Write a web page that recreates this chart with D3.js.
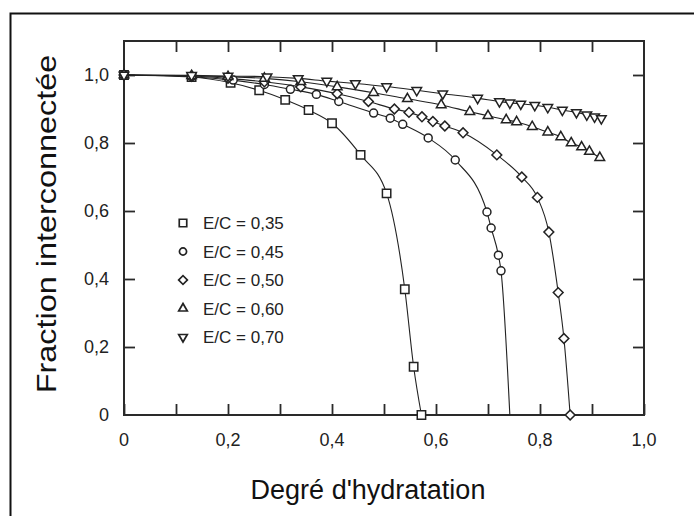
<!DOCTYPE html>
<html>
<head>
<meta charset="utf-8">
<script src="https://cdn.jsdelivr.net/npm/d3@7"></script>
<style>
  body { margin: 0; background: #fff; }
  svg { font-family: "Liberation Sans", Arial, sans-serif; }
</style>
</head>
<body>
<div id="chart"></div>
<script>
// data
const ec035X = [0, 0.13, 0.205, 0.26, 0.31, 0.355, 0.40, 0.455, 0.505, 0.54, 0.557, 0.572];
const ec035Y = [1.0, 0.994, 0.977, 0.955, 0.927, 0.897, 0.858, 0.765, 0.652, 0.37, 0.142, 0.0];

const ec045X = [0, 0.13, 0.21, 0.27, 0.32, 0.37, 0.413, 0.48, 0.512, 0.536, 0.585, 0.637, 0.698, 0.706, 0.72, 0.725];
const ec045Y = [1.0, 0.995, 0.985, 0.972, 0.958, 0.943, 0.922, 0.888, 0.873, 0.855, 0.815, 0.75, 0.597, 0.55, 0.47, 0.424];
const ec045End = [0.742, 0.0];

const ec050X = [0, 0.13, 0.2, 0.27, 0.34, 0.41, 0.47, 0.52, 0.548, 0.573, 0.594, 0.617, 0.652, 0.717, 0.765, 0.795, 0.817, 0.835, 0.846, 0.858];
const ec050Y = [1.0, 0.997, 0.99, 0.98, 0.965, 0.945, 0.922, 0.9, 0.89, 0.877, 0.863, 0.85, 0.83, 0.765, 0.7, 0.64, 0.538, 0.36, 0.225, 0.0];

const ec060X = [0, 0.13, 0.2, 0.27, 0.34, 0.41, 0.48, 0.545, 0.61, 0.665, 0.7, 0.735, 0.755, 0.785, 0.815, 0.84, 0.86, 0.88, 0.895, 0.915];
const ec060Y = [1.0, 0.998, 0.995, 0.99, 0.98, 0.965, 0.948, 0.93, 0.912, 0.892, 0.88, 0.868, 0.862, 0.848, 0.832, 0.818, 0.8, 0.788, 0.775, 0.757];

const ec070X = [0, 0.13, 0.2, 0.275, 0.335, 0.39, 0.445, 0.505, 0.563, 0.613, 0.68, 0.722, 0.742, 0.763, 0.79, 0.815, 0.843, 0.87, 0.89, 0.905, 0.918];
const ec070Y = [1.0, 0.999, 0.997, 0.995, 0.99, 0.982, 0.975, 0.966, 0.955, 0.945, 0.932, 0.922, 0.918, 0.915, 0.911, 0.905, 0.897, 0.89, 0.883, 0.877, 0.872];

const legendLabels = ["E/C = 0,35", "E/C = 0,45", "E/C = 0,50", "E/C = 0,60", "E/C = 0,70"];
const xTicks = [0, 0.2, 0.4, 0.6, 0.8, 1.0];
const xMinorTicks = [0, 0.1, 0.2, 0.3, 0.4, 0.5, 0.6, 0.7, 0.8, 0.9, 1.0];
const yTicks = [0, 0.2, 0.4, 0.6, 0.8, 1.0];

const W = 694, H = 516;
const margin = {top: 41, right: 50, bottom: 101, left: 124};
const width = W - margin.left - margin.right;
const height = H - margin.top - margin.bottom;

const fmt = d => d === 0 ? "0" : d3.format(".1f")(d).replace(".", ",");

const svg = d3.select("#chart").append("svg")
    .attr("width", W)
    .attr("height", H);

// outer frame (left + top only, runs off the page)
svg.append("path")
    .attr("d", "M10.5," + H + "V13.5H" + W)
    .attr("fill", "none")
    .attr("stroke", "#111")
    .attr("stroke-width", 2);

const g = svg.append("g")
    .attr("transform", "translate(" + margin.left + "," + margin.top + ")");

const x = d3.scaleLinear().domain([0, 1]).range([0, width]);
const y = d3.scaleLinear().domain([0, 1.1]).range([height, 0]);

const tickLen = 11;
const axisColor = "#2a2a2a";

// bottom axis
const xAxis = g.append("g")
    .attr("transform", "translate(0," + height + ")")
    .call(d3.axisBottom(x).tickValues(xMinorTicks).tickSizeInner(-tickLen).tickSizeOuter(0).tickFormat(""));
// top axis
const xAxisTop = g.append("g")
    .call(d3.axisTop(x).tickValues(xMinorTicks.slice(1, -1)).tickSizeInner(-tickLen).tickSizeOuter(0).tickFormat(""));
// left axis
const yAxis = g.append("g")
    .call(d3.axisLeft(y).tickValues(yTicks.slice(1)).tickSizeInner(-tickLen).tickSizeOuter(0).tickFormat(""));
// right axis
const yAxisRight = g.append("g")
    .attr("transform", "translate(" + width + ",0)")
    .call(d3.axisRight(y).tickValues(yTicks.slice(1)).tickSizeInner(-tickLen).tickSizeOuter(0).tickFormat(""));

[xAxis, xAxisTop, yAxis, yAxisRight].forEach(a => {
    a.select(".domain").remove();
    a.selectAll("line").attr("stroke", axisColor).attr("stroke-width", 1.8);
});

// box
g.append("rect")
    .attr("width", width)
    .attr("height", height)
    .attr("fill", "none")
    .attr("stroke", axisColor)
    .attr("stroke-width", 2);

// tick labels
g.selectAll(".xlab").data(xTicks).enter().append("text")
    .attr("x", d => x(d))
    .attr("y", height + 31)
    .attr("text-anchor", "middle")
    .attr("font-size", 18)
    .attr("fill", "#222")
    .text(fmt);

g.selectAll(".ylab").data(yTicks).enter().append("text")
    .attr("x", -15)
    .attr("y", d => y(d) + 6)
    .attr("text-anchor", "end")
    .attr("font-size", 18)
    .attr("fill", "#222")
    .text(fmt);

// axis titles
svg.append("text")
    .attr("x", 368)
    .attr("y", 499)
    .attr("text-anchor", "middle")
    .attr("font-size", 27)
    .attr("fill", "#111")
    .text("Degré d'hydratation");

svg.append("text")
    .attr("transform", "translate(56,224) rotate(-90) scale(1.2,1)")
    .attr("text-anchor", "middle")
    .attr("font-size", 27)
    .attr("fill", "#111")
    .text("Fraction interconnectée");

// marker shapes
const symbols = [d3.symbolSquare, d3.symbolCircle, d3.symbolSquare, d3.symbolTriangle, d3.symbolTriangle];
const symSizes = [70, 50, 48, 40, 40];
const symRotate = [0, 0, 45, 0, 180];

const series = [
    {xs: ec035X, ys: ec035Y},
    {xs: ec045X, ys: ec045Y, end: ec045End},
    {xs: ec050X, ys: ec050Y},
    {xs: ec060X, ys: ec060Y},
    {xs: ec070X, ys: ec070Y}
];

const line = d3.line()
    .x(d => x(d[0]))
    .y(d => y(d[1]))
    .curve(d3.curveMonotoneX);

series.forEach((s, i) => {
    let pts = s.xs.map((v, j) => [v, s.ys[j]]);
    let linePts = s.end ? pts.concat([s.end]) : pts;
    g.append("path")
        .datum(linePts)
        .attr("fill", "none")
        .attr("stroke", "#222")
        .attr("stroke-width", 1.1)
        .attr("d", line);
});

series.forEach((s, i) => {
    let pts = s.xs.map((v, j) => [v, s.ys[j]]);
    g.selectAll(".m" + i).data(pts).enter().append("path")
        .attr("transform", d => "translate(" + x(d[0]) + "," + y(d[1]) + ") rotate(" + symRotate[i] + ")")
        .attr("d", d3.symbol().type(symbols[i]).size(symSizes[i]))
        .attr("fill", "#fff")
        .attr("stroke", "#222")
        .attr("stroke-width", 1.5);
});

// legend
const legend = svg.append("g").attr("transform", "translate(183,223)");
legendLabels.forEach((lab, i) => {
    const row = legend.append("g").attr("transform", "translate(0," + i * 28.5 + ")");
    row.append("path")
        .attr("transform", "rotate(" + symRotate[i] + ")")
        .attr("d", d3.symbol().type(symbols[i]).size(symSizes[i] * 0.8))
        .attr("fill", "#fff")
        .attr("stroke", "#222")
        .attr("stroke-width", 1.7);
    row.append("text")
        .attr("x", 20)
        .attr("y", 6)
        .attr("font-size", 17)
        .attr("fill", "#222")
        .text(lab);
});
</script>
</body>
</html>
